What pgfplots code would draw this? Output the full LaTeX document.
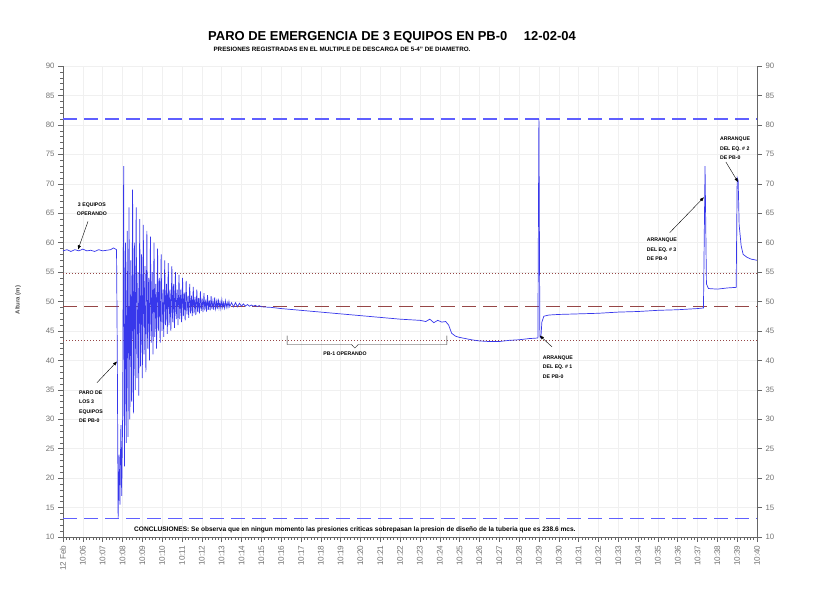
\documentclass[border=0pt]{standalone}
\usepackage{fontspec}
\setmainfont{Liberation Sans}
\usepackage{pgfplots}
\pgfplotsset{compat=1.18}
\usetikzlibrary{arrows.meta}
\definecolor{trace}{RGB}{55,55,235}
\definecolor{lineblue}{RGB}{95,95,255}
\definecolor{linered}{RGB}{150,70,70}
\definecolor{tickgray}{RGB}{115,115,115}
\newcommand{\annfont}{\fontsize{5.2}{9.5}\selectfont\bfseries}
\begin{document}
\begin{tikzpicture}
\useasboundingbox (-63bp,-66bp) rectangle (759bp,537bp);
\begin{axis}[
  at={(0,0)}, anchor=south west,
  scale only axis, width=694bp, height=471bp,
  xmin=5, xmax=40, ymin=10, ymax=90,
  axis x line*=bottom, axis y line*=left,
  clip=false,
  xtick={5,...,40},
  xticklabels={12 Feb,10:06,10:07,10:08,10:09,10:10,10:11,10:12,10:13,10:14,10:15,10:16,10:17,10:18,10:19,10:20,10:21,10:22,10:23,10:24,10:25,10:26,10:27,10:28,10:29,10:30,10:31,10:32,10:33,10:34,10:35,10:36,10:37,10:38,10:39,10:40},
  x tick label style={rotate=90, anchor=east, font=\fontsize{8.2}{9}\selectfont, text=tickgray},
  ytick={10,15,...,90},
  y tick label style={font=\fontsize{7.8}{8}\selectfont, text=tickgray},
  /pgf/number format/assume math mode=true,
  minor y tick num=4, minor x tick num=5,
  tick align=outside,
  major tick length=5bp, minor tick length=2.5bp,
  xmajorgrids, ymajorgrids,
  grid style={gray!12, line width=0.4bp},
  axis line style={gray!80!black, line width=0.5bp},
  every tick/.style={gray!80!black, line width=0.4bp},
]
% reference lines
\addplot[color=lineblue, line width=1.2bp, dash pattern=on 14bp off 7bp] coordinates {(5,81) (40,81)};
\addplot[color=lineblue, line width=1.2bp, dash pattern=on 14bp off 7bp] coordinates {(5,13.1) (40,13.1)};
\addplot[color=linered, line width=0.7bp, dash pattern=on 1.2bp off 1.8bp] coordinates {(5,54.8) (40,54.8)};
\addplot[color=linered, line width=0.8bp, dash pattern=on 14bp off 7bp] coordinates {(5,49.2) (40,49.2)};
\addplot[color=linered, line width=0.7bp, dash pattern=on 1.2bp off 1.8bp] coordinates {(5,43.4) (40,43.4)};
% pressure trace
\addplot[color=trace, line width=0.7bp] coordinates {
(5.00,58.6) (5.20,58.8) (5.40,58.5) (5.60,58.8) (5.80,58.6) (6.00,58.9) (6.20,58.6) (6.40,58.7)
(6.60,58.5) (6.80,58.8) (7.00,58.6) (7.20,58.7) (7.40,58.8) (7.55,59.1) (7.70,58.8)
(7.74,40) (7.78,13.2) (7.83,24) (7.87,15.5) (7.92,29) (7.96,17) (8.01,31)
(8.06,73) (8.10,22) (8.15,60) (8.19,26) (8.24,62) (8.28,27) (8.33,66) (8.37,30)
(8.42,57) (8.46,33) (8.51,69) (8.55,31) (8.60,60) (8.64,35) (8.69,66) (8.73,37)
(8.78,55) (8.82,34) (8.87,64) (8.91,39) (8.96,58) (9.00,37) (9.05,63) (9.09,41)
(9.14,56) (9.18,38) (9.23,62) (9.27,42) (9.32,54) (9.36,40) (9.41,61) (9.45,43)
(9.50,55) (9.54,41) (9.59,60) (9.63,44) (9.68,53) (9.72,42) (9.77,59) (9.81,45)
(9.86,54) (9.90,43) (9.95,58) (9.99,45) (10.04,52) (10.08,44) (10.13,57) (10.17,46)
(10.22,53) (10.26,44.5) (10.31,56.5) (10.35,46) (10.40,52) (10.44,45) (10.49,56) (10.53,46.5)
(10.58,53) (10.62,45.5) (10.67,55) (10.71,47) (10.76,52) (10.80,46) (10.85,54.5) (10.89,47)
(10.94,52) (10.98,46.5) (11.03,54) (11.07,47.5) (11.12,51.5) (11.16,46.8) (11.21,53.5) (11.25,47.8)
(11.30,51) (11.34,47.2) (11.39,53) (11.43,48) (11.48,51) (11.52,47.5) (11.57,52.5) (11.61,48)
(11.66,50.8) (11.70,47.7) (11.75,52) (11.79,48.2) (11.84,50.6) (11.88,48) (11.93,51.7) (11.97,48.4)
(12.02,50.5) (12.06,48.2) (12.11,51.4) (12.15,48.5) (12.20,50.3) (12.24,48.3) (12.29,51.1) (12.33,48.6)
(12.38,50.2) (12.42,48.5) (12.47,50.9) (12.51,48.7) (12.56,50.1) (12.60,48.6) (12.65,50.7) (12.69,48.8)
(12.74,50.0) (12.78,48.7) (12.83,50.5) (12.87,48.9) (12.92,49.9) (12.96,48.8) (13.01,50.3) (13.05,49.0)
(13.10,49.8) (13.14,48.9) (13.19,50.1) (13.23,49.0) (13.28,49.8) (13.32,49.0) (13.37,50.0) (13.41,49.1)
(13.50,49.8) (13.60,49.1) (13.70,49.8) (13.80,49.1) (13.90,49.7) (14.00,49.2) (14.10,49.6) (14.20,49.2)
(14.30,49.5) (14.40,49.2) (14.50,49.4) (14.60,49.2) (14.70,49.35) (14.80,49.15) (14.90,49.3) (15.00,49.1)
(15.50,49.0) (16.00,48.8) (17.00,48.5) (18.00,48.2) (19.00,47.9) (20.00,47.6) (21.00,47.3) (22.00,47.0)
(22.50,46.9) (23.00,46.8) (23.30,46.6) (23.50,47.0) (23.70,46.4) (23.90,46.8) (24.10,46.5) (24.30,46.6)
(24.45,46.0) (24.60,44.6) (24.80,44.1) (25.00,43.9) (25.30,43.7) (25.60,43.5) (26.00,43.3) (26.50,43.2)
(27.00,43.2) (27.50,43.4) (28.00,43.5) (28.50,43.7) (28.95,43.8) (29.00,81.0) (29.05,44.0) (29.10,43.8)
(29.15,46.5) (29.25,47.5) (29.50,47.7) (30.00,47.8) (31.00,47.9) (32.00,48.0) (33.00,48.2) (34.00,48.3)
(35.00,48.5) (36.00,48.6) (37.00,48.8) (37.30,48.9) (37.38,73.0) (37.45,53.0) (37.55,52.2) (38.00,52.1)
(38.50,52.3) (38.95,52.4) (39.00,71.0) (39.05,70.5) (39.10,63.0) (39.20,59.5) (39.30,58.0) (39.50,57.5)
(39.70,57.2) (40.00,57.0)
};
% annotations
\node[font=\annfont, align=center] at (axis cs:6.46,65.7) {3 EQUIPOS\\OPERANDO};
\draw[-{Triangle[length=4bp,width=3bp]}, line width=0.4bp] (axis cs:6.26,63.6) -- (axis cs:5.76,58.85);
\node[font=\annfont, align=left] at (axis cs:6.41,32.1) {PARO DE\\LOS 3\\EQUIPOS\\DE PB-0};
\draw[-{Triangle[length=4bp,width=3bp]}, line width=0.4bp] (axis cs:6.71,36.2) -- (axis cs:7.72,39.8);
\draw[line width=0.4bp, gray!30!black] (axis cs:16.30,44.2) -- (axis cs:16.30,42.7) -- (axis cs:19.55,42.7) -- (axis cs:19.72,42.1) -- (axis cs:19.89,42.7) -- (axis cs:24.36,42.7) -- (axis cs:24.36,44.2);
\node[font=\annfont] at (axis cs:19.22,41.1) {PB-1 OPERANDO};
\node[font=\annfont, align=left] at (axis cs:29.96,38.9) {ARRANQUE\\DEL EQ. \# 1\\DE PB-0};
\draw[-{Triangle[length=4bp,width=3bp]}, line width=0.4bp] (axis cs:29.66,42.3) -- (axis cs:29.05,44.2);
\node[font=\annfont, align=left] at (axis cs:35.2,58.85) {ARRANQUE\\DEL EQ. \# 3\\DE PB-0};
\draw[-{Triangle[length=4bp,width=3bp]}, line width=0.4bp] (axis cs:35.6,61.7) -- (axis cs:37.32,67.7);
\node[font=\annfont, align=left] at (axis cs:38.89,76.0) {ARRANQUE\\DEL EQ. \# 2\\DE PB-0};
\draw[-{Triangle[length=4bp,width=3bp]}, line width=0.4bp] (axis cs:38.43,73.7) -- (axis cs:39.04,70.3);
\node[font=\fontsize{6.6}{7}\selectfont\bfseries] at (axis cs:19.72,11.2) {CONCLUSIONES: Se observa que en ningun momento las presiones criticas sobrepasan la presion de diseño de la tuberia que es 238.6 mcs.};
\end{axis}
\begin{axis}[
  at={(0,0)}, anchor=south west,
  scale only axis, width=694bp, height=471bp,
  xmin=5, xmax=40, ymin=10, ymax=90,
  axis x line=none, axis y line*=right,
  ytick={10,15,...,90},
  y tick label style={font=\fontsize{7.8}{8}\selectfont, text=tickgray},
  /pgf/number format/assume math mode=true,
  tick align=outside, major tick length=5bp,
  axis line style={gray!80!black, line width=0.5bp},
  every tick/.style={gray!80!black, line width=0.4bp},
]
\end{axis}
\node[font=\fontsize{13}{15}\selectfont\bfseries] at (329bp,500bp) {PARO DE EMERGENCIA DE 3 EQUIPOS EN PB-0\quad\ 12-02-04};
\node[font=\fontsize{6.3}{7}\selectfont\bfseries] at (279bp,488bp) {PRESIONES REGISTRADAS EN EL MULTIPLE DE DESCARGA DE 5-4" DE DIAMETRO.};
\node[font=\fontsize{6}{7}\selectfont\bfseries, text=gray!60!black, rotate=90] at (-45bp,237bp) {Altura (m)};
\end{tikzpicture}
\end{document}
